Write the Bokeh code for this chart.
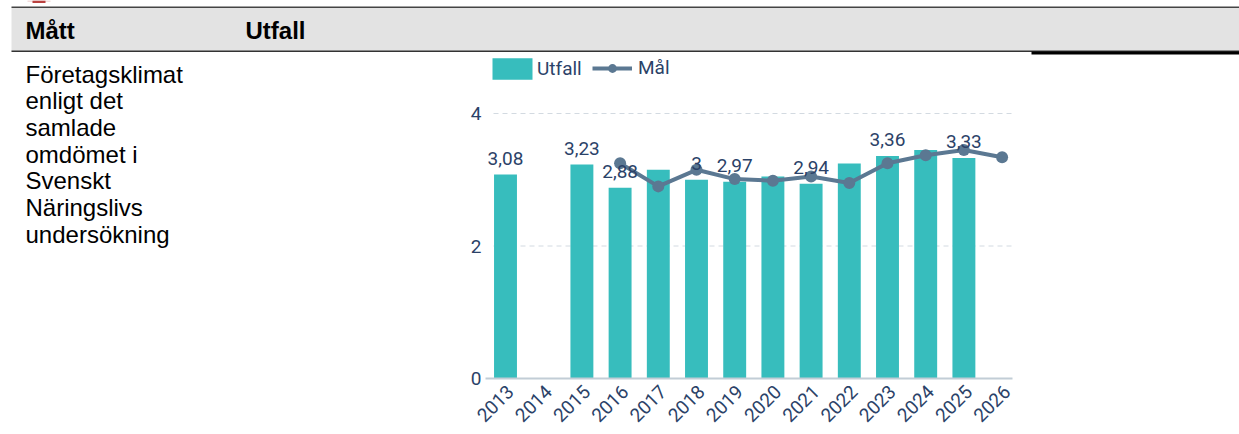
from bokeh.plotting import figure
from bokeh.embed import file_html
from bokeh.resources import INLINE
from bokeh.models import (Label, BoxAnnotation, Legend, LegendItem, Range1d, FixedTicker)
from bokeh.core.properties import value
import math

# ---- data
years = [2013, 2014, 2015, 2016, 2017, 2018, 2019, 2020, 2021, 2022, 2023, 2024, 2025, 2026]
utfall_years = [2013, 2015, 2016, 2017, 2018, 2019, 2020, 2021, 2022, 2023, 2024, 2025]
utfall = [3.08, 3.23, 2.88, 3.15, 3.0, 2.97, 3.05, 2.94, 3.245, 3.36, 3.45, 3.33]
mal_years = [2016, 2017, 2018, 2019, 2020, 2021, 2022, 2023, 2024, 2025, 2026]
mal = [3.25, 2.9, 3.15, 3.01, 2.985, 3.05, 2.95, 3.25, 3.37, 3.45, 3.34]
label_years = [2013, 2015, 2016, 2018, 2019, 2021, 2023, 2025]
label_vals = [3.08, 3.23, 2.88, 3.0, 2.97, 2.94, 3.36, 3.33]
label_text = ["3,08", "3,23", "2,88", "3", "2,97", "2,94", "3,36", "3,33"]
y_ticks = [0, 2, 4]
headers = ["Mått", "Utfall"]
body_lines = ["Företagsklimat", "enligt det", "samlade", "omdömet i", "Svenskt", "Näringslivs", "undersökning"]

TEAL = "#37bdbd"
SLATE = "#5b7892"
NAVY = "#2b4268"

W, H = 1239, 434
PX_X, PX_Y = 38.2, 66.25       # pixels per year, per unit
X0_PX, Y0_PX = 505.0, 378.0    # where 2013 and 0 lie on the page

x_start = 2013 - X0_PX / PX_X
x_end = 2013 + (W - X0_PX) / PX_X
y_start = -(H - Y0_PX) / PX_Y
y_end = Y0_PX / PX_Y

p = figure(width=W, height=H, output_backend="svg", toolbar_location=None,
           x_range=Range1d(x_start, x_end), y_range=Range1d(y_start, y_end),
           min_border=0, outline_line_color=None,
           background_fill_color=None, border_fill_color=None)


def sy(y):
    return H - y


def box(l, r, t, b, color):
    p.add_layout(BoxAnnotation(left=l, right=r, top=sy(t), bottom=sy(b),
                               left_units="screen", right_units="screen",
                               top_units="screen", bottom_units="screen",
                               fill_color=color, fill_alpha=1, line_color=None, level="underlay"))


box(27, 50, 0, 1, "#e8bdbb")
box(32, 45, 0, 2.5, "#b9413f")
box(11, 1239, 7, 51, "#e3e3e3")
box(11, 1239, 6, 7.5, "#444444")
box(11, 1239, 50, 51.5, "#333333")
box(1031, 1239, 51, 54, "#000000")

# ---- axes
xa = p.xaxis[0]
xa.fixed_location = 0
xa.bounds = (2013 - 20 / PX_X, 2013 + 507 / PX_X)
xa.ticker = FixedTicker(ticks=years)
xa.major_label_text_color = None
xa.major_tick_line_color = None
xa.minor_tick_line_color = None
xa.axis_line_color = "#c2cdd6"
xa.axis_line_width = 2

ya = p.yaxis[0]
ya.fixed_location = 2013 - 12 / PX_X
ya.ticker = FixedTicker(ticks=y_ticks)
ya.axis_line_color = None
ya.major_tick_line_color = None
ya.minor_tick_line_color = None
ya.major_tick_out = 0
ya.major_tick_in = 0
ya.major_label_text_font = "Roboto"
ya.major_label_text_font_size = "19px"
ya.major_label_text_color = NAVY
ya.major_label_standoff = 12

p.xgrid.visible = False
p.ygrid.visible = False
p.segment(x0=[2013 - 12 / PX_X] * 2, x1=[2013 + 507 / PX_X] * 2, y0=y_ticks[1:], y1=y_ticks[1:],
          line_color="#d3dae1", line_dash="5 4", line_width=1)

# ---- marks
bars = p.vbar(x=utfall_years, top=utfall, width=0.6, bottom=0, fill_color=TEAL, line_color=None)
line = p.line(mal_years, mal, line_color=SLATE, line_width=4)
p.scatter(mal_years, mal, size=12, fill_color=SLATE, line_color=None)
legend_dot = p.scatter([float("nan")], [float("nan")], size=7, fill_color=SLATE, line_color=None)

p.text(x=label_years, y=label_vals, text=label_text, text_font=value("Roboto"), text_font_size="19px",
       text_color=NAVY, text_align="center", text_baseline="alphabetic", y_offset=-16)

# year labels, rotated, hanging below the axis
p.text(x=years, y=[0] * len(years), text=[str(y) for y in years], angle=math.pi / 4,
       text_font=value("Roboto"), text_font_size="19px", text_color=NAVY,
       text_align="right", text_baseline="middle", x_offset=5, y_offset=10)

legend_style = dict(orientation="horizontal", padding=0, margin=0, spacing=0, label_height=20,
                    label_text_font="Roboto", label_text_font_size="19px", label_text_color=NAVY,
                    background_fill_alpha=0, border_line_color=None)
p.add_layout(Legend(items=[LegendItem(label="Utfall", renderers=[bars])],
                    location=(487, H - 82), glyph_width=50, glyph_height=27, label_standoff=0,
                    **legend_style), "center")
p.add_layout(Legend(items=[LegendItem(label="Mål", renderers=[line, legend_dot])],
                    location=(592, H - 79), glyph_width=40, glyph_height=22, label_standoff=6,
                    **legend_style), "center")

# ---- table texts
for text, x in zip(headers, [25, 245]):
    p.add_layout(Label(x=x, y=sy(30), x_units="screen", y_units="screen", text=text,
                       text_font="Liberation Sans", text_font_size="24px", text_font_style="bold",
                       text_color="#000000", text_baseline="alphabetic"))
for i, text in enumerate(body_lines):
    p.add_layout(Label(x=25, y=sy(73.6 + i * 26.65), x_units="screen", y_units="screen", text=text,
                       text_font="Liberation Sans", text_font_size="24px",
                       text_color="#000000", text_baseline="alphabetic"))

open("out.html", "w").write(file_html(p, INLINE))
